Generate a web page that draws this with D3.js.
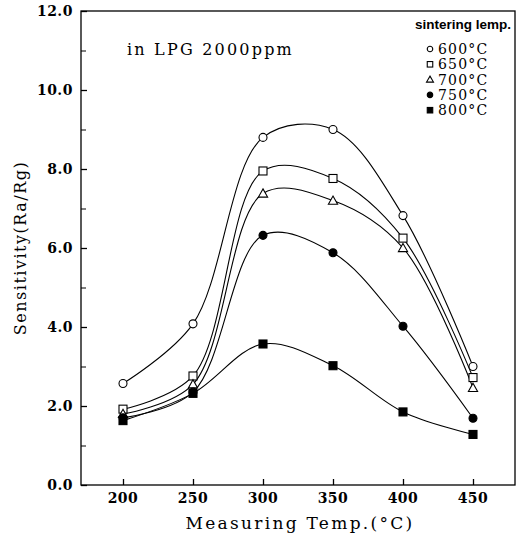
<!DOCTYPE html>
<html>
<head>
<meta charset="utf-8">
<script src="https://cdn.jsdelivr.net/npm/d3@7"></script>
<style>
  body { margin: 0; background: #fff; }
  svg { display: block; }
</style>
</head>
<body>
<div id="chart"></div>
<script>
// measuring temperatures (x) and sensitivity per sintering temp
var temps = [200, 250, 300, 350, 400, 450];
var xTicks = [200, 250, 300, 350, 400, 450];
var yTicks = [0, 2, 4, 6, 8, 10, 12];
var yMinor = [1, 3, 5, 7, 9, 11];

var s600 = [2.57, 4.08, 8.8, 9.0, 6.82, 3.0];
var s650 = [1.92, 2.76, 7.95, 7.76, 6.25, 2.72];
var s700 = [1.8, 2.55, 7.38, 7.2, 6.0, 2.46];
var s750 = [1.7, 2.35, 6.32, 5.88, 4.02, 1.69];
var s800 = [1.63, 2.32, 3.57, 3.02, 1.85, 1.28];

var seriesNames = ["600°C", "650°C", "700°C", "750°C", "800°C"];
var seriesVals = [s600, s650, s700, s750, s800];
var markers = ["circle", "square", "triangle", "circle", "square"];
var filled = [false, false, false, true, true];

var width = 517, height = 541;
var margin = {top: 11, right: 2, bottom: 56, left: 81};

var svg = d3.select("#chart").append("svg")
    .attr("width", width)
    .attr("height", height);

var x = d3.scaleLinear().domain([170, 480]).range([margin.left, width - margin.right]);
var y = d3.scaleLinear().domain([0, 12]).range([height - margin.bottom, margin.top]);

var serif = "'DejaVu Serif', 'Liberation Serif', serif";

//frame
svg.append("rect")
    .attr("x", margin.left)
    .attr("y", margin.top)
    .attr("width", width - margin.right - margin.left)
    .attr("height", height - margin.bottom - margin.top)
    .attr("fill", "none")
    .attr("stroke", "#000")
    .attr("stroke-width", 1.3);

//x axis, ticks pointing inward
var xAxis = svg.append("g")
    .attr("transform", "translate(0," + y(0) + ")")
    .call(d3.axisTop(x).tickValues(xTicks).tickSize(6).tickFormat(""));
xAxis.select(".domain").remove();
xAxis.selectAll("line").attr("stroke-width", 1.3);

svg.selectAll(".xlab")
    .data(xTicks)
    .enter().append("text")
    .attr("class", "xlab")
    .attr("x", function (d) { return x(d); })
    .attr("y", 503)
    .attr("text-anchor", "middle")
    .style("font-family", serif)
    .style("font-size", "14px")
    .style("font-weight", "bold")
    .style("letter-spacing", "0.5px")
    .text(function (d) { return d; });

//y axis
var yAxis = svg.append("g")
    .attr("transform", "translate(" + x(170) + ",0)")
    .call(d3.axisRight(y).tickValues(yTicks).tickSize(6).tickFormat(""));
yAxis.select(".domain").remove();
yAxis.selectAll("line").attr("stroke-width", 1.3);

var yAxisMinor = svg.append("g")
    .attr("transform", "translate(" + x(170) + ",0)")
    .call(d3.axisRight(y).tickValues(yMinor).tickSize(5).tickFormat(""));
yAxisMinor.select(".domain").remove();

svg.selectAll(".ylab")
    .data(yTicks)
    .enter().append("text")
    .attr("class", "ylab")
    .attr("x", 73)
    .attr("y", function (d) { return y(d) + 5; })
    .attr("text-anchor", "end")
    .style("font-family", serif)
    .style("font-size", "14px")
    .style("font-weight", "bold")
    .style("letter-spacing", "0.5px")
    .text(function (d) { return d.toFixed(1); });

//axis titles
svg.append("text")
    .attr("x", 300)
    .attr("y", 529)
    .attr("text-anchor", "middle")
    .style("font-family", serif)
    .style("font-size", "17px")
    .style("letter-spacing", "2.3px")
    .text("Measuring  Temp.(°C)");

svg.append("text")
    .attr("transform", "translate(26," + 248 + ") rotate(-90)")
    .attr("text-anchor", "middle")
    .style("font-family", serif)
    .style("font-size", "16px")
    .style("letter-spacing", "1.5px")
    .text("Sensitivity(Ra/Rg)");

svg.append("text")
    .attr("x", 127)
    .attr("y", 55)
    .style("font-family", serif)
    .style("font-size", "16px")
    .style("letter-spacing", "2.2px")
    .text("in LPG 2000ppm");

//curves
var line = d3.line()
    .x(function (d, i) { return x(temps[i]); })
    .y(function (d) { return y(d); })
    .curve(d3.curveCatmullRom.alpha(0.5));

svg.selectAll(".curve")
    .data(seriesVals)
    .enter().append("path")
    .attr("class", "curve")
    .attr("d", line)
    .attr("fill", "none")
    .attr("stroke", "#000")
    .attr("stroke-width", 1.1);

function drawMarker(g, type, fill, size) {
    var m;
    if (type == "circle") {
        m = g.append("circle").attr("r", size / 2);
    } else if (type == "square") {
        m = g.append("rect").attr("x", -size / 2).attr("y", -size / 2)
            .attr("width", size).attr("height", size);
    } else {
        var h = size * 0.9;
        m = g.append("path").attr("d", "M0," + (-h / 2 - 1) + "L" + (h / 2 + 1) + "," + (h / 2) + "L" + (-h / 2 - 1) + "," + (h / 2) + "Z");
    }
    m.attr("fill", fill ? "#000" : "#fff")
        .attr("stroke", "#000")
        .attr("stroke-width", 1.1);
}

seriesVals.forEach(function (vals, si) {
    vals.forEach(function (v, i) {
        var g = svg.append("g").attr("transform", "translate(" + x(temps[i]) + "," + y(v) + ")");
        drawMarker(g, markers[si], filled[si], 8);
    });
});

//legend
svg.append("text")
    .attr("x", 415)
    .attr("y", 29)
    .style("font-family", "'Liberation Sans', Arial, sans-serif")
    .style("font-weight", "bold")
    .style("font-size", "13.5px")
    .text("sintering lemp.");

seriesNames.forEach(function (name, i) {
    var ly = 49 + i * 15.3;
    var g = svg.append("g").attr("transform", "translate(430," + ly + ")");
    drawMarker(g, markers[i], filled[i], 5.5);
    svg.append("text")
        .attr("x", 438)
        .attr("y", ly + 5)
        .style("font-family", serif)
        .style("font-size", "14px")
        .style("letter-spacing", "1.2px")
        .text(name);
});
</script>
</body>
</html>
